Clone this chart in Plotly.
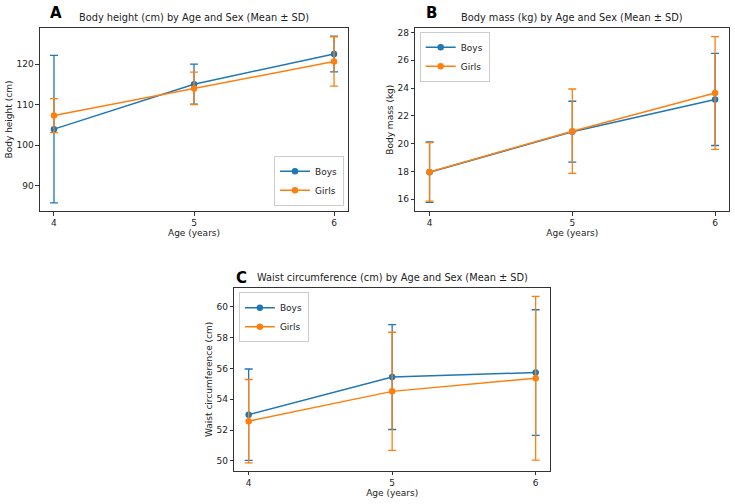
import plotly.graph_objects as go

ages = [4, 5, 6]
age_ticks = ["4", "5", "6"]

height_boys = [103.95, 115.05, 122.5]
height_boys_sd = [18.2, 4.95, 4.4]
height_girls = [107.3, 114.0, 120.65]
height_girls_sd = [4.2, 4.0, 6.1]

mass_boys = [17.95, 20.86, 23.18]
mass_boys_sd = [2.17, 2.19, 3.31]
mass_girls = [17.97, 20.9, 23.64]
mass_girls_sd = [2.1, 3.03, 4.05]

waist_boys = [53.0, 55.44, 55.73]
waist_boys_sd = [2.96, 3.4, 4.07]
waist_girls = [52.58, 54.51, 55.36]
waist_girls_sd = [2.7, 3.83, 5.3]

BLUE = "#1f77b4"
ORANGE = "#ff7f0e"
FONT = "DejaVu Sans"

panels = [
    dict(key="", boys=height_boys, bsd=height_boys_sd, girls=height_girls, gsd=height_girls_sd,
         title="Body height (cm) by Age and Sex (Mean ± SD)", ylabel="Body height (cm)", letter="A",
         xdom=[0.0544, 0.4735], ydom=[0.5813, 0.9444], yrange=[83.75, 128.9], ytick=10,
         legend=dict(x=0.468, y=0.592, xanchor="right", yanchor="bottom")),
    dict(key="2", boys=mass_boys, bsd=mass_boys_sd, girls=mass_girls, gsd=mass_girls_sd,
         title="Body mass (kg) by Age and Sex (Mean ± SD)", ylabel="Body mass (kg)", letter="B",
         xdom=[0.565, 0.9923], ydom=[0.5813, 0.9438], yrange=[15.16, 28.29], ytick=2,
         legend=dict(x=0.571, y=0.937, xanchor="left", yanchor="top")),
    dict(key="3", boys=waist_boys, bsd=waist_boys_sd, girls=waist_girls, gsd=waist_girls_sd,
         title="Waist circumference (cm) by Age and Sex (Mean ± SD)", ylabel="Waist circumference (cm)", letter="C",
         xdom=[0.3188, 0.7483], ydom=[0.0655, 0.4292], yrange=[49.35, 61.23], ytick=2,
         legend=dict(x=0.325, y=0.420, xanchor="left", yanchor="top")),
]

fig = go.Figure()
annotations = []
layout = {}
for p in panels:
    k = p["key"]
    xa = "x" + k
    ya = "y" + k
    leg = "legend" + k
    for name, vals, sd, col in [("Boys", p["boys"], p["bsd"], BLUE), ("Girls", p["girls"], p["gsd"], ORANGE)]:
        fig.add_trace(go.Scatter(
            x=ages, y=vals, name=name, mode="lines+markers",
            xaxis=xa, yaxis=ya, legend=leg,
            line=dict(color=col, width=1.5),
            marker=dict(color=col, size=6.5),
            error_y=dict(type="data", array=sd, visible=True, color=col, thickness=1.3, width=4),
        ))
    axstyle = dict(showline=True, mirror=True, linecolor="#333", linewidth=1, ticks="outside",
                   ticklen=3.5, tickcolor="#333", showgrid=False, zeroline=False,
                   tickfont=dict(family=FONT, size=9, color="#222"))
    layout["xaxis" + k] = dict(domain=p["xdom"], anchor=ya, range=[3.9, 6.1], tickvals=ages, ticktext=age_ticks,
                               title=dict(text="Age (years)", font=dict(family=FONT, size=9, color="#222"), standoff=2),
                               **axstyle)
    layout["yaxis" + k] = dict(domain=p["ydom"], anchor=xa, range=p["yrange"], dtick=p["ytick"],
                               title=dict(text=p["ylabel"], font=dict(family=FONT, size=9, color="#222"), standoff=2),
                               **axstyle)
    layout[leg] = dict(**p["legend"], bgcolor="rgba(255,255,255,0.8)", bordercolor="#ccc", borderwidth=1,
                       font=dict(family=FONT, size=9, color="#222"), itemwidth=30, tracegroupgap=0)
    xc = (p["xdom"][0] + p["xdom"][1]) / 2
    annotations.append(dict(text=p["title"], x=xc, y=p["ydom"][1], xref="paper", yref="paper",
                            xanchor="center", yanchor="bottom", yshift=3, showarrow=False,
                            font=dict(family=FONT, size=9.8, color="#222")))

letters = [("A", 0.065, 0.975), ("B", 0.577, 0.975), ("C", 0.319, 0.449)]
for t, x, y in letters:
    annotations.append(dict(text="<b>" + t + "</b>", x=x, y=y, xref="paper", yref="paper",
                            xanchor="left", yanchor="middle", showarrow=False,
                            font=dict(family=FONT, size=15, color="black")))

fig.update_layout(**layout)
fig.update_layout(annotations=annotations, width=735, height=504,
                  margin=dict(l=0, r=0, t=0, b=0), paper_bgcolor="white", plot_bgcolor="white",
                  showlegend=True)
fig.write_html("out.html")
